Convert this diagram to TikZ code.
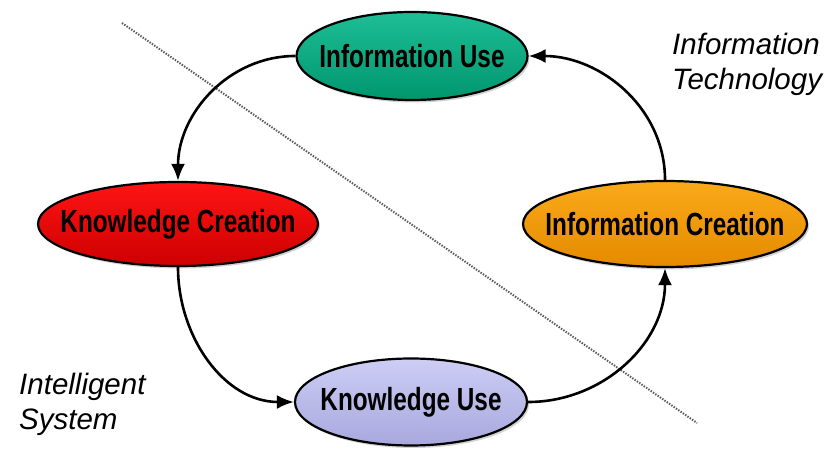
\documentclass[tikz,border=0pt]{standalone}
\usepackage{fontspec}
\setmainfont{Liberation Sans}
\newfontfamily\cyclefont[FakeStretch=0.76]{Liberation Sans}
\usetikzlibrary{arrows.meta,shapes.geometric,shadows}
\newcommand{\cyclelabel}[1]{\makebox[0pt][c]{#1}}
\begin{document}
\begin{tikzpicture}[x=1pt,y=1pt,
  phase/.style={ellipse,draw=black,line width=2.2pt,inner sep=0pt,
    font=\cyclefont\bfseries\fontsize{32}{36}\selectfont,
    drop shadow={shadow xshift=2pt,shadow yshift=-2.5pt,opacity=0.35}},
  flow/.style={draw=black,line width=2.6pt,-{Latex[length=17pt,width=14pt]}},
  divider/.style={draw=black!65,line width=2pt,dash pattern=on 1.4pt off 1.4pt},
  side/.style={anchor=north west,inner sep=0pt,align=left,
    font=\itshape\fontsize{29.5}{35}\selectfont}]
\definecolor{fillColor}{RGB}{255,255,255}
\definecolor{useTop}{RGB}{30,190,150}
\definecolor{useBot}{RGB}{0,150,110}
\definecolor{kcTop}{RGB}{255,20,20}
\definecolor{kcBot}{RGB}{205,0,0}
\definecolor{icTop}{RGB}{250,170,25}
\definecolor{icBot}{RGB}{228,138,0}
\definecolor{kuTop}{RGB}{205,205,245}
\definecolor{kuBot}{RGB}{168,168,222}
\path[use as bounding box,fill=fillColor] (0,0) rectangle (840,449);

% dividing line
\coordinate (divtop) at (122,426);
\coordinate (divbot) at (697,26);
\path[divider] (divtop) -- (divbot);

% the four phases
\node[phase,minimum width=231pt,minimum height=88pt,top color=useTop,bottom color=useBot]
  (infouse) at (412,393) {\cyclelabel{Information Use}};
\node[phase,minimum width=280pt,minimum height=84pt,top color=kcTop,bottom color=kcBot]
  (knowcreate) at (178,225) {\cyclelabel{Knowledge Creation}};
\node[phase,minimum width=284pt,minimum height=86pt,top color=icTop,bottom color=icBot]
  (infocreate) at (665,225) {\cyclelabel{Information Creation}};
\node[phase,minimum width=232pt,minimum height=87pt,top color=kuTop,bottom color=kuBot]
  (knowuse) at (411,47) {\cyclelabel{Knowledge Use}};

% cycle
\path[flow] (infouse.west) to[out=180,in=90] (knowcreate.north);
\path[flow] (knowcreate.south) to[out=-90,in=180] (knowuse.west);
\path[flow] (knowuse.east) to[out=0,in=-90] (infocreate.south);
\path[flow] (infocreate.north) to[out=90,in=0] (infouse.east);

% regions
\node[side] (techlabel) at (672,416) {Information\\Technology};
\node[side] (intlabel) at (19,76) {Intelligent\\System};
\end{tikzpicture}
\end{document}
